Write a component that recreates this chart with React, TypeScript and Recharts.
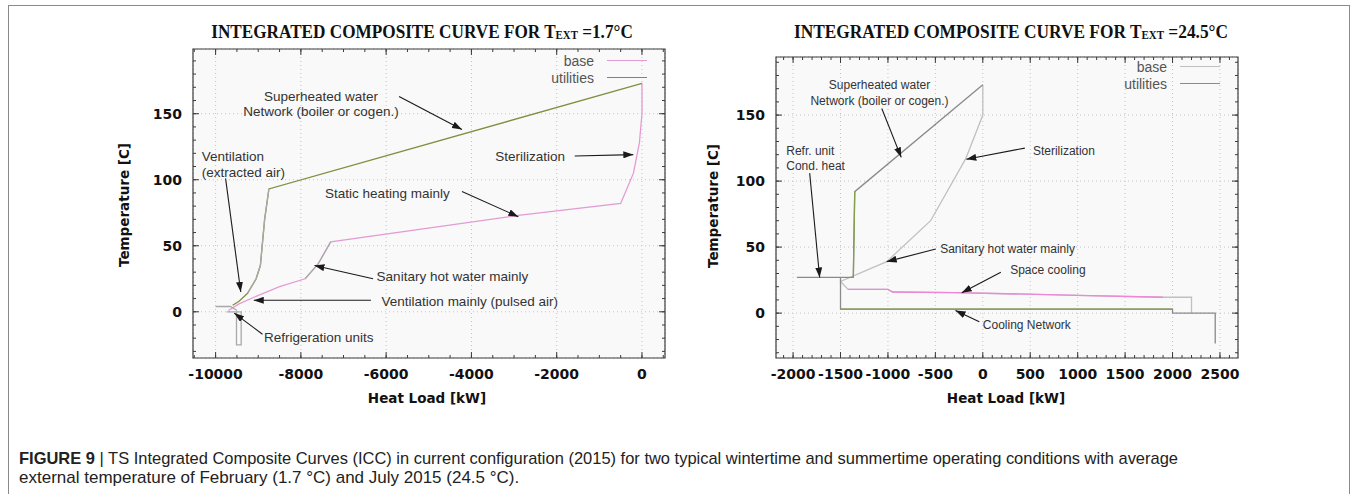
import React from "react";
import { LineChart, Line, XAxis, YAxis, CartesianGrid, ReferenceLine, ReferenceDot, ReferenceArea, Legend } from "recharts";

// ---- winter case, T_ext = 1.7 °C ----
const winterBaseX = [0, 0, -60, -200, -500, -2900, -7300, -7600, -7900, -8500, -9100, -9450, -9700];
const winterBaseY = [173, 150, 128, 105, 82, 73, 53, 36, 25, 19, 11, 6, 1];
const winterUtilX = [0, -8750, -8850, -8950, -9050, -9250, -9450, -9600];
const winterUtilY = [173, 93, 70, 35, 25, 14, 8, 5];
// ventilation line and refrigeration units box (null breaks the path)
const winterOtherX = [-10000, -9650, -9500, -9500, -9740, -9400, -9400, -9510, -9510];
const winterOtherY = [4, 4, 1, null, 0, 0, -25, -25, 0];
const winterXTicks = [-10000, -8000, -6000, -4000, -2000, 0];

// ---- summer case, T_ext = 24.5 °C ----
const summerBaseX = [0, 0, -180, -550, -1013, -1500, -1420, -1000, -950, -300, 1000, 1900, 2200, 2200];
const summerBaseY = [173, 150, 117, 70, 39, 24, 18, 18, 16, 15.5, 13.5, 12, 12, 0];
const summerUtilX = [0, -1350, -1365, -1960, -1960, -1500, -1500, 2000, 2000, 2450, 2450];
const summerUtilY = [173, 92, 27, 27, null, 27, 3, 3, 0, 0, -23];
const summerXTicks = [-2000, -1500, -1000, -500, 0, 500, 1000, 1500, 2000, 2500];

const yTicks = [0, 50, 100, 150];
const legendNames = ["base", "utilities"];

type Pt = { x: number; y: number | null };
const zip = (xs: number[], ys: (number | null)[]): Pt[] => xs.map((x, i) => ({ x, y: ys[i] }));
const steps = (a: number, b: number, s: number) => {
  const r: number[] = [];
  for (let v = a; v <= b; v += s) r.push(v);
  return r;
};
const gap: Pt = { x: 0, y: null };

const TICK_FONT = "DejaVu Sans, sans-serif";
const NOTE_FONT = "Liberation Sans, Arial, sans-serif";
const TITLE_FONT = "Liberation Serif, serif";
const AX = "#3c3c3c";
const CH = 420;
const Y_AXIS_W = 60;
const X_AXIS_H = 30;

type Series = { name: string; data: Pt[]; color: string; legend: boolean };
type Note = { x: number; y: number; text: string; start?: boolean };
type Arrow = [number, number, number, number];

const LegendBox = (props: any) => (
  <div style={{ fontFamily: NOTE_FONT, fontSize: 14, color: "#555" }}>
    {(props.payload || [])
      .filter((e: any) => legendNames.includes(e.value))
      .map((e: any) => (
        <div key={e.value} style={{ display: "flex", alignItems: "center", justifyContent: "flex-end", height: 17 }}>
          <span>{e.value}</span>
          <span style={{ display: "inline-block", width: 40, marginLeft: 13, borderTop: `1.4px solid ${e.color}` }} />
        </div>
      ))}
  </div>
);

function Panel(p: {
  left: number;
  width: number;
  margin: { top: number; right: number; bottom: number; left: number };
  xDomain: [number, number];
  yDomain: [number, number];
  xTicks: number[];
  xMinor: number[];
  yMinor: number[];
  series: Series[];
  notes: Note[];
  arrows: Arrow[];
  noteSize: number;
  legendPos: React.CSSProperties;
}) {
  const [x0, x1] = p.xDomain;
  const [y0, y1] = p.yDomain;
  // data units per pixel, for the short inward gnuplot-style ticks
  const ux = (x1 - x0) / (p.width - p.margin.left - p.margin.right - Y_AXIS_W);
  const uy = (y1 - y0) / (CH - p.margin.top - p.margin.bottom - X_AXIS_H);
  const tickSegs: Arrow[] = [];
  const addX = (v: number, len: number) => {
    tickSegs.push([v, y0, v, y0 + len * uy], [v, y1, v, y1 - len * uy]);
  };
  const addY = (v: number, len: number) => {
    tickSegs.push([x0, v, x0 + len * ux, v], [x1, v, x1 - len * ux, v]);
  };
  p.xMinor.forEach((v) => addX(v, 3));
  p.xTicks.forEach((v) => addX(v, 6));
  p.yMinor.forEach((v) => addY(v, 3));
  yTicks.forEach((v) => addY(v, 6));

  return (
    <div style={{ position: "absolute", left: p.left, top: 0 }}>
      <LineChart width={p.width} height={CH} margin={p.margin}>
        <CartesianGrid stroke="#c4c4c4" strokeDasharray="1 3" fill="#f9f9f9" />
        <XAxis
          dataKey="x"
          type="number"
          allowDataOverflow
          domain={p.xDomain}
          ticks={p.xTicks}
          interval={0}
          height={X_AXIS_H}
          tickLine={false}
          tickMargin={5}
          axisLine={false}
          tick={{ fill: "#111", fontSize: 14, fontWeight: 700, fontFamily: TICK_FONT }}
        />
        <YAxis
          type="number"
          allowDataOverflow
          domain={p.yDomain}
          ticks={yTicks}
          interval={0}
          width={Y_AXIS_W}
          tickLine={false}
          tickMargin={5}
          axisLine={false}
          tick={{ fill: "#111", fontSize: 14, fontWeight: 700, fontFamily: TICK_FONT }}
        />
        {p.series.map((s) => (
          <Line
            key={s.name}
            data={s.data}
            dataKey="y"
            name={s.name}
            stroke={s.color}
            strokeWidth={1.3}
            dot={false}
            activeDot={false}
            connectNulls={false}
            legendType={s.legend ? "line" : "none"}
            isAnimationActive={false}
          />
        ))}
        {tickSegs.map((t, i) => (
          <ReferenceLine
            key={"t" + i}
            segment={[{ x: t[0], y: t[1] }, { x: t[2], y: t[3] }]}
            stroke={AX}
            strokeWidth={1}
            ifOverflow="visible"
          />
        ))}
        {/* plot frame */}
        <ReferenceArea x1={x0} x2={x1} y1={y0} y2={y1} fill="none" fillOpacity={0} stroke={AX} strokeWidth={1.2} ifOverflow="visible" />
        {p.arrows.map((a, i) => (
          <ReferenceLine
            key={"a" + i}
            segment={[{ x: a[0], y: a[1] }, { x: a[2], y: a[3] }]}
            stroke="#1a1a1a"
            strokeWidth={1.1}
            markerEnd="url(#tip)"
            ifOverflow="visible"
          />
        ))}
        {p.notes.map((n, i) => (
          <ReferenceDot
            key={"n" + i}
            x={n.x}
            y={n.y}
            r={0}
            fill="none"
            stroke="none"
            ifOverflow="visible"
            label={{ value: n.text, position: n.start ? "right" : "center", offset: 0, fill: "#333", fontSize: p.noteSize, fontFamily: NOTE_FONT }}
          />
        ))}
        <Legend layout="vertical" align="center" verticalAlign="middle" wrapperStyle={{ width: "auto", left: "auto", ...p.legendPos }} content={LegendBox} />
      </LineChart>
    </div>
  );
}

export default function App() {
  const wBase = zip(winterBaseX, winterBaseY);
  const wUtil = zip(winterUtilX, winterUtilY);
  const wOther = [...zip(winterOtherX, winterOtherY), gap, ...wUtil.slice(1, 6), gap, ...wBase.slice(6, 9)];
  const sBase = zip(summerBaseX, summerBaseY);
  const sUtil = zip(summerUtilX, summerUtilY);
  const sPink = sBase.slice(6, 12);
  const sGreen = [...sUtil.slice(1, 3), gap, ...sUtil.slice(6, 8)];

  const winterSeries: Series[] = [
    { name: "base", data: wBase, color: "#e39bd3", legend: true },
    { name: "utilities", data: wUtil, color: "#7e9040", legend: true },
    { name: "other", data: wOther, color: "#a9a9a9", legend: false },
  ];
  const summerSeries: Series[] = [
    { name: "base", data: sBase, color: "#c0c0c0", legend: true },
    { name: "utilities", data: sUtil, color: "#8a8a8a", legend: true },
    { name: "cooling", data: sPink, color: "#ef86d6", legend: false },
    { name: "network", data: sGreen, color: "#83a04a", legend: false },
  ];

  const winterNotes: Note[] = [
    { x: -7528, y: 163.5, text: "Superheated water" },
    { x: -7528, y: 152, text: "Network (boiler or cogen.)" },
    { x: -10325, y: 117.7, text: "Ventilation", start: true },
    { x: -10325, y: 105.7, text: "(extracted air)", start: true },
    { x: -2625, y: 117.7, text: "Sterilization" },
    { x: -5971, y: 89.6, text: "Static heating mainly" },
    { x: -4446, y: 26.6, text: "Sanitary hot water mainly" },
    { x: -4039, y: 8, text: "Ventilation mainly (pulsed air)" },
    { x: -7579, y: -19.4, text: "Refrigeration units" },
  ];
  const winterArrows: Arrow[] = [
    [-5697, 163, -4222, 138],
    [-1577, 118, -203, 119],
    [-9766, 101, -9410, 15],
    [-4222, 91, -2899, 72],
    [-6307, 25, -7681, 35],
    [-6358, 8.7, -9105, 8.7],
    [-8901, -17, -9563, -1],
  ];
  const summerNotes: Note[] = [
    { x: -1089, y: 172.7, text: "Superheated water" },
    { x: -1089, y: 161, text: "Network (boiler or cogen.)" },
    { x: 855, y: 122.7, text: "Sterilization" },
    { x: -2072, y: 122.7, text: "Refr. unit", start: true },
    { x: -2072, y: 111.6, text: "Cond. heat", start: true },
    { x: 261, y: 49, text: "Sanitary hot water mainly" },
    { x: 686, y: 32.6, text: "Space cooling" },
    { x: 464, y: -9, text: "Cooling Network" },
  ];
  const summerArrows: Arrow[] = [
    [-1065, 155, -860, 118],
    [443, 125, -174, 116.6],
    [-1825, 106, -1720, 27],
    [-496, 48.5, -1013, 39],
    [190, 31, -222, 15.4],
    [-37, -6.6, -288, 2],
  ];

  return (
    <div style={{ position: "absolute", left: 0, top: 0, width: 1356, height: 494, background: "#fff", overflow: "hidden" }}>
      <div
        style={{
          position: "absolute",
          left: 8,
          top: 5,
          width: 1342,
          height: 489,
          boxSizing: "border-box",
          borderTop: "1.5px solid #8a8a8a",
          borderLeft: "1.5px solid #8a8a8a",
          borderRight: "1.5px solid #8a8a8a",
        }}
      />
      <Panel
        left={0}
        width={680}
        margin={{ top: 49, right: 15, bottom: 32, left: 133 }}
        xDomain={[-10530, 540]}
        yDomain={[-35, 199]}
        xTicks={winterXTicks}
        xMinor={steps(-10500, 500, 500)}
        yMinor={steps(-30, 190, 10)}
        series={winterSeries}
        notes={winterNotes}
        arrows={winterArrows}
        noteSize={13.5}
        legendPos={{ right: 33, top: 52 }}
      />
      <Panel
        left={680}
        width={676}
        margin={{ top: 57, right: 118, bottom: 32, left: 36 }}
        xDomain={[-2180, 2690]}
        yDomain={[-34, 194]}
        xTicks={summerXTicks}
        xMinor={steps(-2100, 2600, 100)}
        yMinor={steps(-30, 190, 10)}
        series={summerSeries}
        notes={summerNotes}
        arrows={summerArrows}
        noteSize={12}
        legendPos={{ right: 136, top: 58 }}
      />
      <svg width={1356} height={494} style={{ position: "absolute", left: 0, top: 0, pointerEvents: "none" }}>
        <defs>
          <marker id="tip" markerUnits="userSpaceOnUse" markerWidth={10} markerHeight={7} refX={10} refY={3.5} orient="auto">
            <path d="M0,0 L10,3.5 L0,7 z" fill="#1a1a1a" />
          </marker>
        </defs>
        <g transform="translate(422,38) scale(0.905,1)">
          <text x={0} y={0} textAnchor="middle" fontFamily={TITLE_FONT} fontWeight={700} fontSize={19} fill="#111">
            INTEGRATED COMPOSITE CURVE FOR T<tspan fontSize={12} dy={1}>EXT</tspan>
            <tspan dy={-1}> =1.7°C</tspan>
          </text>
        </g>
        <g transform="translate(1011,38) scale(0.913,1)">
          <text x={0} y={0} textAnchor="middle" fontFamily={TITLE_FONT} fontWeight={700} fontSize={19} fill="#111">
            INTEGRATED COMPOSITE CURVE FOR T<tspan fontSize={12} dy={1}>EXT</tspan>
            <tspan dy={-1}> =24.5°C</tspan>
          </text>
        </g>
        <text transform="translate(124,205) rotate(-90)" textAnchor="middle" dominantBaseline="central" fontFamily={TICK_FONT} fontWeight={700} fontSize={13.5} fill="#111">
          Temperature [C]
        </text>
        <text transform="translate(713,206) rotate(-90)" textAnchor="middle" dominantBaseline="central" fontFamily={TICK_FONT} fontWeight={700} fontSize={13.5} fill="#111">
          Temperature [C]
        </text>
        <text x={427} y={398} textAnchor="middle" dominantBaseline="central" fontFamily={TICK_FONT} fontWeight={700} fontSize={13.5} fill="#111">
          Heat Load [kW]
        </text>
        <text x={1006} y={398} textAnchor="middle" dominantBaseline="central" fontFamily={TICK_FONT} fontWeight={700} fontSize={13.5} fill="#111">
          Heat Load [kW]
        </text>
        <text x={19} y={464} textLength={1159} lengthAdjust="spacingAndGlyphs" fontFamily={NOTE_FONT} fontSize={17} fill="#222">
          <tspan fontWeight={700}>FIGURE 9</tspan> | TS Integrated Composite Curves (ICC) in current configuration (2015) for two typical wintertime and summertime operating conditions with average
        </text>
        <text x={19} y={483} fontFamily={NOTE_FONT} fontSize={17} fill="#222">
          external temperature of February (1.7 °C) and July 2015 (24.5 °C).
        </text>
      </svg>
    </div>
  );
}
